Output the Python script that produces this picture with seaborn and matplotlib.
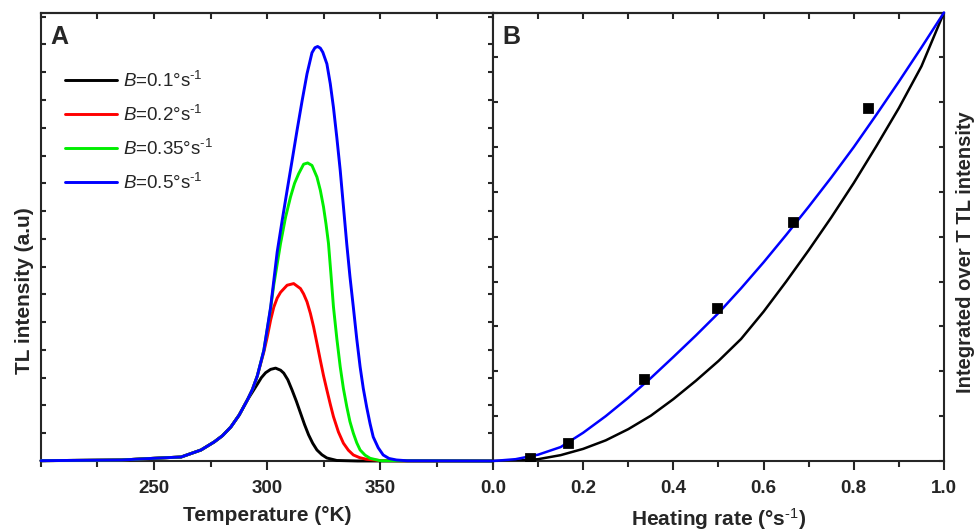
import numpy as np
import pandas as pd
import matplotlib
matplotlib.use('Agg')
import matplotlib.pyplot as plt
from matplotlib.ticker import MultipleLocator, NullFormatter
import seaborn as sns

# ---- panel A: TL glow curves (a.u., blue peak = 100)
rise_T = [200, 235.6, 250.1, 262.0, 270.8, 276.6, 280.3, 284.0, 287.7, 291.3]
rise_I = [0.07, 0.24, 0.65, 0.96, 2.65, 4.58, 6.1, 8.2, 11.1, 14.7]

b01_T = rise_T + [293.5, 295.7, 297.5, 299.4, 301.6, 303.8, 306.0, 307.4, 309.2, 311.1, 313.0,
                  314.8, 316.6, 318.4, 320.2, 322.1, 324.3, 326.5, 330.9, 340, 400]
b01_I = rise_I + [16.6, 18.5, 20.1, 21.3, 22.1, 22.4, 21.9, 21.2, 19.6, 17.1, 14.4,
                  11.6, 8.8, 6.3, 4.3, 2.65, 1.5, 0.72, 0.12, 0.0, 0.0]

b02_T = rise_T + [293.5, 295.7, 298.6, 300.1, 301.6, 303.0, 304.5, 306.0, 308.9, 311.8, 314.8,
                  316.2, 317.7, 319.2, 320.6, 322.1, 323.6, 325.0, 326.5, 328.0, 329.4, 331.6,
                  333.8, 336.0, 338.2, 341.0, 344.1, 350, 360, 400]
b02_I = rise_I + [17.2, 20.5, 26.3, 29.9, 34.0, 37.1, 39.3, 40.7, 42.4, 42.8, 41.6,
                  40.3, 38.4, 35.6, 32.4, 28.4, 24.3, 20.6, 17.1, 13.7, 10.7, 7.0,
                  4.3, 2.6, 1.45, 0.8, 0.4, 0.12, 0.03, 0.0]

b035_T = rise_T + [293.5, 295.7, 298.6, 301.6, 303.0, 304.5, 306.0, 308.2, 310.4, 312.2, 314.0,
                   316.2, 318.0, 319.9, 322.1, 323.6, 325.0, 326.1, 327.2, 328.3, 329.4, 330.9,
                   332.4, 333.8, 335.3, 336.7, 338.2, 339.7, 341.2, 343.4, 345.6, 350, 400]
b035_I = rise_I + [17.2, 20.5, 26.7, 36.8, 42.5, 47.5, 52.5, 58.8, 63.7, 67.0, 69.3,
                   71.6, 71.9, 71.3, 68.5, 65.3, 61.3, 57.2, 52.5, 45.0, 37.2, 29.5,
                   22.7, 17.5, 13.1, 9.5, 6.7, 4.4, 2.65, 1.4, 0.65, 0.07, 0.0]

b05_T = rise_T + [293.5, 295.7, 298.6, 301.6, 303.0, 304.5, 306.7, 308.9, 311.1, 313.3, 315.5,
                  317.7, 319.9, 321.2, 322.4, 323.6, 324.7, 326.5, 328.0, 329.4, 330.9, 332.4,
                  333.8, 335.3, 336.7, 338.2, 339.7, 341.2, 342.6, 344.1, 345.6, 347.0, 349.2,
                  351.4, 354.0, 357.3, 362, 400]
b05_I = rise_I + [17.2, 20.5, 26.7, 37.1, 43.5, 50.4, 58.0, 65.3, 72.5, 79.8, 86.8,
                  93.4, 98.5, 99.7, 100.0, 99.6, 98.6, 95.8, 91.0, 85.3, 78.0, 70.1,
                  61.5, 52.3, 44.5, 37.1, 29.5, 22.7, 17.5, 13.0, 9.0, 5.8, 3.2,
                  1.45, 0.6, 0.24, 0.05, 0.0]

rates = ['0.1', '0.2', '0.35', '0.5']
colors = ['#000000', '#ff0000', '#00ee00', '#0000ff']
temp_ticks = [250, 300, 350]

# ---- panel B: integrated intensity vs heating rate
rate_pts = [0.083, 0.166, 0.334, 0.496, 0.666, 0.832]
integ_pts = [0.0074, 0.041, 0.183, 0.342, 0.532, 0.788]

curve_x = [0.0, 0.05, 0.1, 0.15, 0.2, 0.25, 0.3, 0.35, 0.4, 0.45, 0.5,
           0.55, 0.6, 0.65, 0.7, 0.75, 0.8, 0.85, 0.9, 0.95, 1.0]
blue_y = [0.0, 0.004, 0.014, 0.031, 0.063, 0.100, 0.141, 0.185, 0.232, 0.280, 0.330,
          0.385, 0.443, 0.504, 0.567, 0.632, 0.700, 0.772, 0.846, 0.922, 1.0]
black_y = [0.0, 0.0005, 0.004, 0.013, 0.027, 0.046, 0.071, 0.101, 0.138, 0.179, 0.223,
           0.272, 0.333, 0.400, 0.470, 0.543, 0.620, 0.702, 0.787, 0.880, 1.0]
rate_ticks = [0.0, 0.2, 0.4, 0.6, 0.8, 1.0]

sns.set_style('ticks')
plt.rcParams['font.family'] = ['Liberation Sans', 'DejaVu Sans']
plt.rcParams['mathtext.fontset'] = 'custom'
plt.rcParams['mathtext.rm'] = 'Liberation Sans'
plt.rcParams['mathtext.it'] = 'Liberation Sans:italic'
plt.rcParams['mathtext.bf'] = 'Liberation Sans:bold'
plt.rcParams['axes.linewidth'] = 1.5

labels = [f'$B$={r}°s$^{{\\text{{-1}}}}$' for r in rates]
frames = []
for lab, T, I in zip(labels, [b01_T, b02_T, b035_T, b05_T], [b01_I, b02_I, b035_I, b05_I]):
    frames.append(pd.DataFrame({'T': T, 'I': I, 'curve': lab}))
glow = pd.concat(frames, ignore_index=True)

fig = plt.figure(figsize=(9.75, 5.32), dpi=100)
ax1 = fig.add_axes([0.04205, 0.1335, 0.4636, 0.843])
ax2 = fig.add_axes([0.50564, 0.1335, 0.46256, 0.843])

sns.lineplot(data=glow, x='T', y='I', hue='curve', hue_order=labels,
             palette=dict(zip(labels, colors)), estimator=None, sort=False,
             linewidth=2.1, ax=ax1, zorder=3, clip_on=False)
ax1.set_xlim(200, 400)
ax1.set_ylim(0, 108.2)

leg = ax1.legend(loc='upper left', bbox_to_anchor=(0.053, 0.870), frameon=False,
                 fontsize=13.5, handlelength=2.8, handletextpad=0.3,
                 labelspacing=0.74, borderpad=0, borderaxespad=0)
for h in leg.get_lines():
    h.set_linewidth(2.1)

sns.lineplot(x=curve_x, y=black_y, color='black', linewidth=1.8, ax=ax2, zorder=3)
sns.lineplot(x=curve_x, y=blue_y, color='#0000ff', linewidth=1.8, ax=ax2, zorder=3, clip_on=False)
sns.scatterplot(x=rate_pts, y=integ_pts, marker='s', s=48, color='black',
                edgecolor='black', ax=ax2, zorder=5)
ax2.set_xlim(0, 1.0)
ax2.set_ylim(0, 1.0)

# ticks
ax1.set_xticks(temp_ticks, [str(t) for t in temp_ticks], fontsize=13.5, fontweight='bold')
ax1.set_xticks([200, 225, 275, 325, 375, 400], minor=True)
ax1.yaxis.set_major_locator(MultipleLocator(6.7))
ax1.yaxis.set_major_formatter(NullFormatter())

ax2.set_xticks(rate_ticks, [f'{t:.1f}' for t in rate_ticks], fontsize=13.5, fontweight='bold')
ax2.xaxis.set_minor_locator(MultipleLocator(0.1))
ax2.yaxis.set_major_locator(MultipleLocator(0.1))
ax2.yaxis.set_major_formatter(NullFormatter())

for ax in (ax1, ax2):
    ax.tick_params(axis='x', which='major', direction='out', length=6.5, width=1.5, pad=7)
    ax.tick_params(axis='x', which='minor', direction='out', length=4.5, width=1.5)
    ax.tick_params(axis='y', which='both', direction='in', left=True, right=True,
                   length=3.5, width=1.5, labelleft=False, labelright=False)
    top = ax.secondary_xaxis('top')
    top.set_xticks(ax.get_xticks())
    top.set_xticks(ax.get_xticks(minor=True), minor=True)
    top.tick_params(axis='x', which='both', direction='in', length=4, width=1.5,
                    labeltop=False)
    for s in ax.spines.values():
        s.set_linewidth(1.5)

ax1.set_xlabel('Temperature (°K)', fontsize=15, fontweight='bold', labelpad=7)
ax1.set_ylabel('TL intensity (a.u)', fontsize=15, fontweight='bold')
ax1.yaxis.set_label_coords(-0.016, 0.38)

ax2.set_xlabel(r'Heating rate (°s$^{\mathbf{\text{-1}}}$)', fontsize=15, fontweight='bold', labelpad=7)
ax2.yaxis.set_label_position('right')
ax2.set_ylabel('Integrated over T TL intensity', fontsize=14.5, fontweight='bold', rotation=90)
ax2.yaxis.set_label_coords(1.026, 0.466)

ax1.text(0.02, 0.972, 'A', transform=ax1.transAxes, fontsize=18, fontweight='bold',
         ha='left', va='top')
ax2.text(0.02, 0.972, 'B', transform=ax2.transAxes, fontsize=18, fontweight='bold',
         ha='left', va='top')

fig.savefig('out.png', dpi=100)
